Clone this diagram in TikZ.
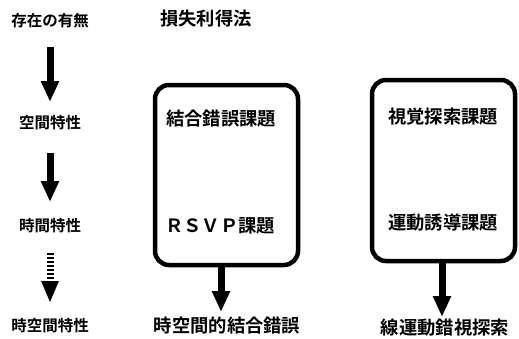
\documentclass[tikz,border=0pt]{standalone}
\usepackage{fontspec}
\setmainfont{Noto Sans CJK JP}[BoldFont={Noto Sans CJK JP Bold}]
\usetikzlibrary{arrows.meta}
\tikzset{
  lbl/.style={inner sep=0pt, font=\fontsize{15.5}{16}\selectfont\bfseries},
  txt/.style={inner sep=0pt, font=\fontsize{18.3}{19}\selectfont\bfseries},
  task/.style={draw, line width=4.5pt, rounded corners=14pt, minimum width=143pt, minimum height=180pt, inner sep=0pt},
  bigarrow/.style={line width=7pt, -{Triangle[length=21pt,width=17pt]}},
  dasharrow/.style={line width=7pt, dash pattern=on 2pt off 2pt, -{Triangle[length=22pt,width=16pt]}}
}
\begin{document}
\begin{tikzpicture}[x=1pt,y=-1pt]
\useasboundingbox (0,0) rectangle (519,338);
% left column
\node[lbl] (exist) at (50,21) {存在の有無};
\node[lbl] (space) at (50,123) {空間特性};
\node[lbl] (time) at (50,226) {時間特性};
\node[lbl] (spacetime) at (50,326) {時空間特性};
\draw[bigarrow, shorten <=26pt, shorten >=21pt] (exist.center) -- (space.center);
\draw[bigarrow, shorten <=30pt, shorten >=24pt] (space.center) -- (time.center);
\draw[dasharrow, shorten <=27pt, shorten >=23pt] (time.center) -- (spacetime.center);
% title
\node[txt] (method) at (206,19) {損失利得法};
% box 1
\node[task] (box1) at (226.5,175) {};
\node[txt] (bind) at (221,119) {結合錯誤課題};
\node[txt] (rsvp) at (220,226) {ＲＳＶＰ課題};
\node[txt] (out1) at (227,326) {時空間的結合錯誤};
\draw[bigarrow, shorten >=14pt] (box1.south -| 221,0) -- (out1.center -| 221,0);
% box 2
\node[task, minimum height=181pt] (box2) at (443.5,170.5) {};
\node[txt] (search) at (443,117) {視覚探索課題};
\node[txt] (motion) at (443,223) {運動誘導課題};
\node[txt] (out2) at (445,328) {線運動錯視探索};
\draw[bigarrow, shorten >=11pt] (box2.south -| 442,0) -- (out2.center -| 442,0);
\end{tikzpicture}
\end{document}
